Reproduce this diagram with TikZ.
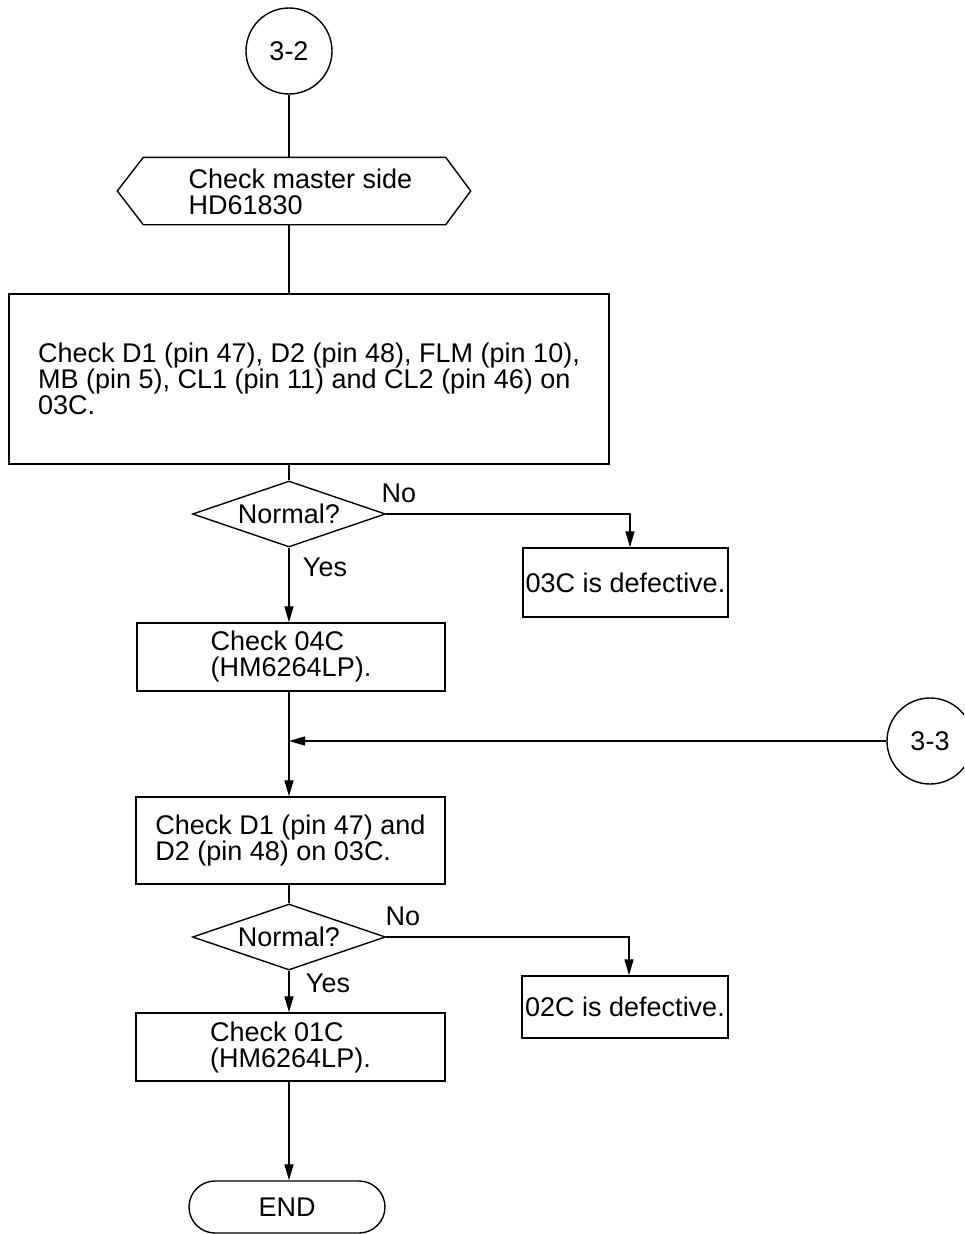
\documentclass[tikz,border=0pt]{standalone}
\usepackage{fontspec}
\setmainfont{Liberation Sans}
\usetikzlibrary{shapes.geometric,shapes.misc,arrows.meta,calc}
\begin{document}
\begin{tikzpicture}[x=1pt,y=-1pt,line width=1.4pt,
  every node/.style={font=\fontsize{27}{26}\selectfont},
  conn/.style={-{Triangle[length=16pt,width=9pt]}},
  conncirc/.style={draw,circle,minimum size=86pt,inner sep=0pt},
  box/.style={draw,rectangle,inner sep=0pt,align=left},
  dec/.style={draw,diamond,minimum width=193pt,minimum height=66pt,inner sep=0pt,aspect=2.9},
  lbl/.style={inner sep=0pt},
  term/.style={draw,rounded rectangle,minimum width=196pt,minimum height=52pt,inner sep=0pt}]
\useasboundingbox (0,0) rectangle (964,1234);
\clip (0,0) rectangle (964,1234);

\node[conncirc] (c32) at (289,51) {3-2};

\node[minimum width=352pt,minimum height=66pt,inner sep=0pt] (hex) at (294,191) {};
\draw (hex.west) -- ($(hex.north west)+(26,0)$) -- ($(hex.north east)+(-25,0)$) -- (hex.east)
  -- ($(hex.south east)+(-25,0)$) -- ($(hex.south west)+(26,0)$) -- cycle;
\node[lbl,align=left,anchor=west] (hextxt) at (188,192) {Check master side\\HD61830};

\node[box,minimum width=600pt,minimum height=170pt] (b1) at (309,379)
  {Check D1 (pin 47), D2 (pin 48), FLM (pin 10),\\MB (pin 5), CL1 (pin 11) and CL2 (pin 46) on\\03C.};

\node[dec] (d1) at (289,514) {Normal?};
\node[lbl] (no1) at (399,493) {No};
\node[lbl] (yes1) at (325,567) {Yes};
\node[box,minimum width=205pt,minimum height=69pt] (e1) at (625.5,582.5) {03C is defective.};

\node[box,minimum width=308pt,minimum height=68pt] (b2) at (291,657) {Check 04C\\(HM6264LP).};

\node[conncirc] (c33) at (930,741) {3-3};

\node[box,minimum width=309pt,minimum height=87pt] (b3) at (290.5,840.5) {Check D1 (pin 47) and\\D2 (pin 48) on 03C.};

\node[dec] (d2) at (289,937) {Normal?};
\node[lbl] (no2) at (403,916) {No};
\node[lbl] (yes2) at (328,983) {Yes};
\node[box,minimum width=206pt,minimum height=62pt] (e2) at (625,1007) {02C is defective.};

\node[box,minimum width=309pt,minimum height=68pt] (b4) at (290.5,1047) {Check 01C\\(HM6264LP).};

\node[term] (endn) at (287,1207) {END};

% connectors
\draw (c32.south) -- (c32.south |- hex.north);
\draw (c32.south |- hex.south) -- (c32.south |- b1.north);
\draw (c32.south |- b1.south) -- (d1.north);
\draw[conn] (d1.east) -| ([xshift=4.5pt]e1.north);
\draw[conn] (d1.south) -- (d1.south |- b2.north);
\draw[conn] (d1.south |- b2.south) -- (d1.south |- b3.north);
\draw[conn] (c33.west) -- (d1.south |- c33.west);
\draw (d1.south |- b3.south) -- (d2.north);
\draw[conn] (d2.east) -| ([xshift=4pt]e2.north);
\draw[conn] (d2.south) -- (d2.south |- b4.north);
\draw[conn] (d2.south |- b4.south) -- (d2.south |- endn.north);
\end{tikzpicture}
\end{document}
